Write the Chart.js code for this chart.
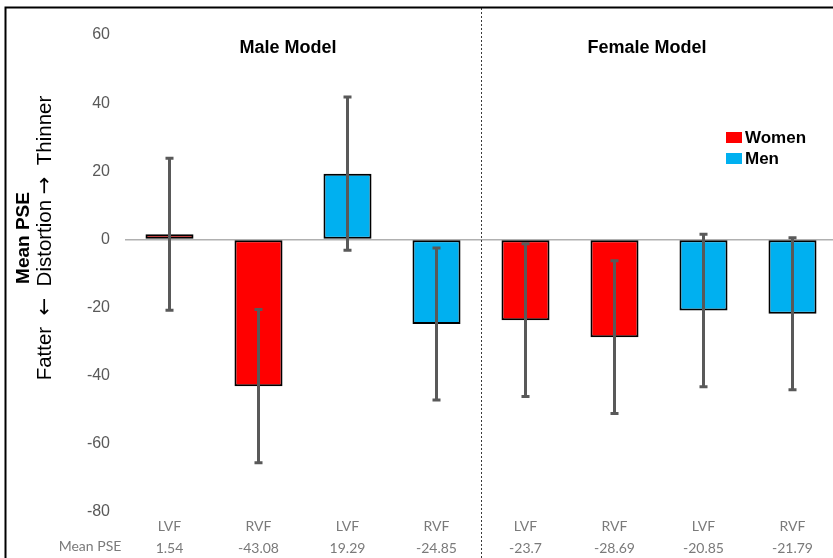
<!DOCTYPE html>
<html>
<head>
<meta charset="utf-8">
<script src="https://cdn.jsdelivr.net/npm/chart.js@4"></script>
<style>
  html, body { margin: 0; padding: 0; overflow: hidden; background: #fff; }
  #wrap { position: relative; width: 840px; height: 558px; }
</style>
</head>
<body>
<div id="wrap"><canvas id="pseChart"></canvas></div>
<script>
const categories = ['LVF', 'RVF', 'LVF', 'RVF', 'LVF', 'RVF', 'LVF', 'RVF'];
const womenPSE = [1.54, -43.08, null, null, -23.7, -28.69, null, null];
const menPSE = [null, null, 19.29, -24.85, null, null, -20.85, -21.79];
const womenErr = [22.3, 22.5, null, null, 22.4, 22.4, null, null];
const menErr = [null, null, 22.5, 22.3, null, null, 22.4, 22.3];
const meanPSEText = ['1.54', '-43.08', '19.29', '-24.85', '-23.7', '-28.69', '-20.85', '-21.79'];
const groupTitles = ['Male Model', 'Female Model'];
const yMin = -80, yMax = 60, yStep = 20;

const tickLabels = categories.map((c, i) => [c, meanPSEText[i]]);

const textFont = '20.5px "Liberation Sans", Arial, sans-serif';
const arrowFont = '21px "DejaVu Sans", sans-serif';

// draws a line of text made of pieces in different fonts, centred on 0
function drawPieces(ctx, pieces, y) {
    let total = 0;
    pieces.forEach(p => { ctx.font = p[1]; total += ctx.measureText(p[0]).width; });
    let cx = -total / 2;
    ctx.textAlign = 'left';
    pieces.forEach(p => {
        ctx.font = p[1];
        ctx.fillText(p[0], cx, y);
        cx += ctx.measureText(p[0]).width;
    });
}

// error bars, group titles, legend, frame and side texts
const decorations = {
    id: 'decorations',
    afterDatasetsDraw(chart) {
        const ctx = chart.ctx;
        const y = chart.scales.y;
        const x = chart.scales.x;
        const errs = [womenErr, menErr];

        // divider between the two models
        ctx.save();
        ctx.strokeStyle = '#3a3a3a';
        ctx.lineWidth = 1;
        ctx.setLineDash([2, 2]);
        const dx = Math.round(x.getPixelForValue(3.5)) + 0.5;
        ctx.beginPath();
        ctx.moveTo(dx, 8);
        ctx.lineTo(dx, chart.height);
        ctx.stroke();
        ctx.restore();

        ctx.save();
        ctx.strokeStyle = '#595959';
        ctx.lineWidth = 3;
        chart.data.datasets.forEach((ds, di) => {
            const meta = chart.getDatasetMeta(di);
            meta.data.forEach((bar, i) => {
                if (ds.data[i] === null) return;
                const top = y.getPixelForValue(ds.data[i] + errs[di][i]);
                const bot = y.getPixelForValue(ds.data[i] - errs[di][i]);
                ctx.beginPath();
                ctx.moveTo(bar.x, top);
                ctx.lineTo(bar.x, bot);
                ctx.moveTo(bar.x - 4, top);
                ctx.lineTo(bar.x + 4, top);
                ctx.moveTo(bar.x - 4, bot);
                ctx.lineTo(bar.x + 4, bot);
                ctx.stroke();
            });
        });
        ctx.restore();
    },
    afterDraw(chart) {
        const ctx = chart.ctx;
        const x = chart.scales.x;

        ctx.save();
        ctx.fillStyle = '#000';
        ctx.textAlign = 'center';
        ctx.textBaseline = 'middle';
        ctx.font = 'bold 18px "Liberation Sans", Arial, sans-serif';
        ctx.fillText(groupTitles[0], x.getPixelForValue(1.5) - 15, 48);
        ctx.fillText(groupTitles[1], x.getPixelForValue(5.5) - 12, 48);

        // legend
        ctx.textAlign = 'left';
        ctx.font = 'bold 17px "Liberation Sans", Arial, sans-serif';
        chart.data.datasets.forEach((ds, di) => {
            const ly = 137 + di * 21;
            ctx.fillStyle = ds.backgroundColor;
            ctx.fillRect(726, ly - 5, 16, 11);
            ctx.fillStyle = '#000';
            ctx.fillText(ds.label, 745, ly + 1);
        });

        // row label of the table under the axis
        ctx.textAlign = 'center';
        ctx.fillStyle = '#7a7a7a';
        ctx.font = '14px Lato, "Open Sans", sans-serif';
        ctx.fillText('Mean PSE', 90, 546);

        // y axis title
        ctx.fillStyle = '#000';
        ctx.translate(23.5, 238);
        ctx.rotate(-Math.PI / 2);
        ctx.font = 'bold 19px "Liberation Sans", Arial, sans-serif';
        ctx.fillText('Mean PSE', 0, 0);
        drawPieces(ctx, [
            ['Fatter  ', textFont],
            ['\u2190', arrowFont],
            ['  Distortion ', textFont],
            ['\u2192', arrowFont],
            ['  Thinner', textFont]
        ], 22);
        ctx.restore();

        // frame
        ctx.save();
        ctx.strokeStyle = '#000';
        ctx.lineWidth = 2;
        ctx.beginPath();
        ctx.moveTo(5.5, chart.height);
        ctx.lineTo(5.5, 7.5);
        ctx.lineTo(chart.width, 7.5);
        ctx.stroke();
        ctx.restore();
    }
};

new Chart(document.getElementById('pseChart'), {
    type: 'bar',
    data: {
        labels: tickLabels,
        datasets: [{
            label: 'Women',
            data: womenPSE,
            backgroundColor: '#ff0000',
            borderColor: '#000000',
            borderWidth: 2,
            borderSkipped: false,
            grouped: false,
            barPercentage: 0.54,
            categoryPercentage: 1
        }, {
            label: 'Men',
            data: menPSE,
            backgroundColor: '#00b0f0',
            borderColor: '#000000',
            borderWidth: 2,
            borderSkipped: false,
            grouped: false,
            barPercentage: 0.54,
            categoryPercentage: 1
        }]
    },
    options: {
        responsive: true,
        maintainAspectRatio: false,
        animation: false,
        layout: { padding: { top: 35, right: 3, left: 0, bottom: 0 } },
        plugins: {
            legend: { display: false },
            tooltip: { enabled: false }
        },
        scales: {
            x: {
                afterFit: (scale) => { scale.height = 46; },
                border: { display: false },
                grid: { display: false, drawTicks: false },
                ticks: {
                    padding: 3,
                    color: '#7a7a7a',
                    maxRotation: 0,
                    autoSkip: false,
                    font: { family: 'Lato, "Open Sans", sans-serif', size: 14, lineHeight: 1.6 }
                }
            },
            y: {
                min: yMin,
                max: yMax,
                afterFit: (scale) => { scale.width = 125; },
                border: { display: false },
                grid: {
                    drawTicks: false,
                    lineWidth: 1.5,
                    color: (c) => c.tick && c.tick.value === 0 ? '#b0b0b0' : 'rgba(0,0,0,0)'
                },
                ticks: {
                    stepSize: yStep,
                    padding: 15,
                    color: '#595959',
                    font: { family: '"Liberation Sans", Arial, sans-serif', size: 16 }
                }
            }
        }
    },
    plugins: [decorations]
});
</script>
</body>
</html>
